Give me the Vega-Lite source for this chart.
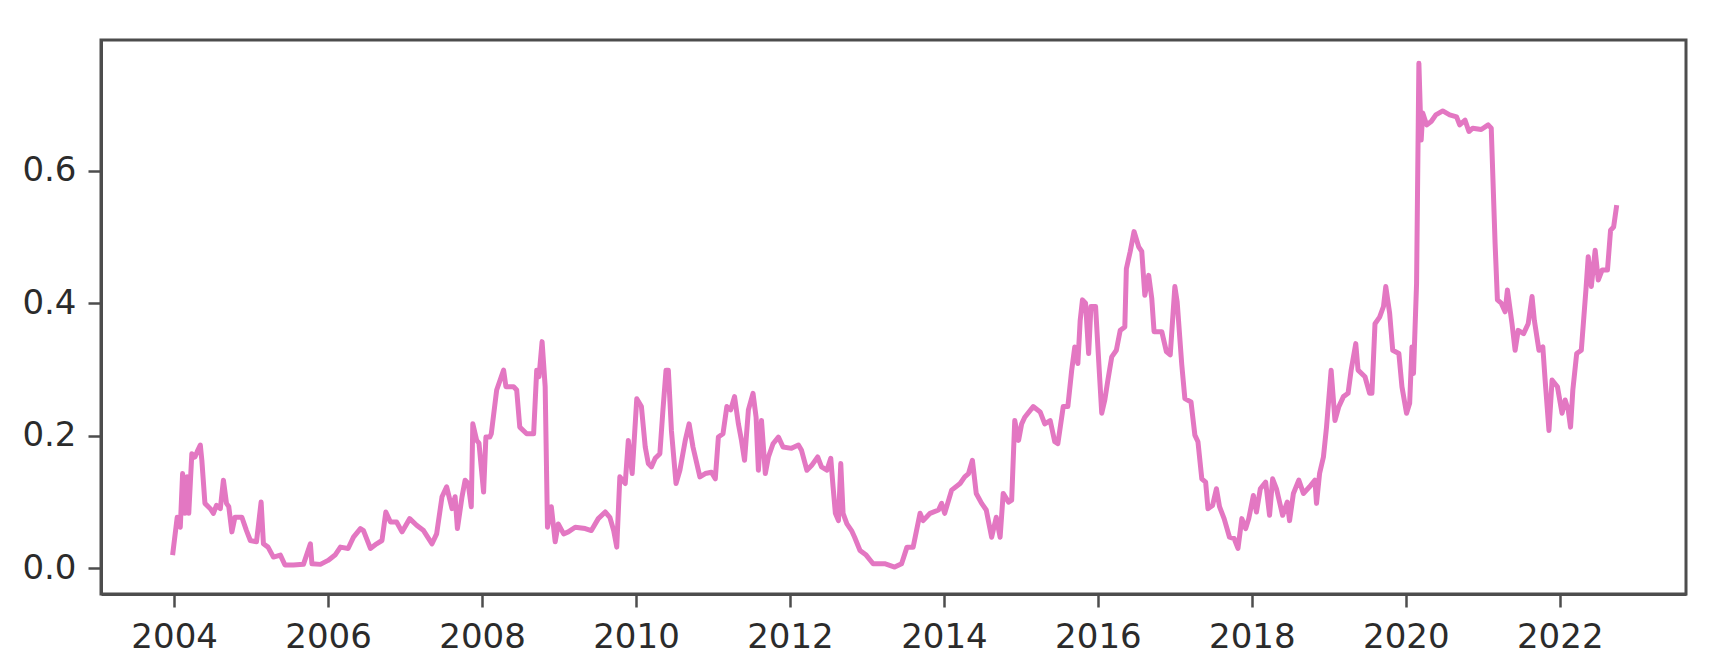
{
  "$schema": "https://vega.github.io/schema/vega-lite/v6.json",
  "autosize": "none",
  "width": 1585,
  "height": 554,
  "padding": {"left": 101, "top": 40, "right": 25, "bottom": 78},
  "background": "white",
  "config": {
    "view": {"stroke": "#4d4d4d", "strokeWidth": 3},
    "axis": {
      "grid": false,
      "domainColor": "#4d4d4d",
      "domainWidth": 3,
      "tickColor": "#4d4d4d",
      "tickWidth": 2.5,
      "tickSize": 13,
      "labelFont": "DejaVu Sans",
      "labelFontSize": 34,
      "labelColor": "#2b2b2b",
      "labelPadding": 12,
      "title": null
    }
  },
  "data": {
    "values": [
      {"date": 2003.98, "value": 0.020},
      {"date": 2004.04, "value": 0.077},
      {"date": 2004.08, "value": 0.062},
      {"date": 2004.11, "value": 0.143},
      {"date": 2004.14, "value": 0.083},
      {"date": 2004.17, "value": 0.138},
      {"date": 2004.19, "value": 0.083},
      {"date": 2004.23, "value": 0.173},
      {"date": 2004.27, "value": 0.168},
      {"date": 2004.30, "value": 0.176},
      {"date": 2004.34, "value": 0.186},
      {"date": 2004.36, "value": 0.163},
      {"date": 2004.40, "value": 0.098},
      {"date": 2004.47, "value": 0.090},
      {"date": 2004.51, "value": 0.083},
      {"date": 2004.55, "value": 0.095},
      {"date": 2004.60, "value": 0.090},
      {"date": 2004.64, "value": 0.133},
      {"date": 2004.68, "value": 0.098},
      {"date": 2004.71, "value": 0.093},
      {"date": 2004.75, "value": 0.055},
      {"date": 2004.79, "value": 0.077},
      {"date": 2004.88, "value": 0.077},
      {"date": 2004.94, "value": 0.057},
      {"date": 2004.99, "value": 0.042},
      {"date": 2005.07, "value": 0.040},
      {"date": 2005.13, "value": 0.100},
      {"date": 2005.16, "value": 0.037},
      {"date": 2005.22, "value": 0.032},
      {"date": 2005.29, "value": 0.017},
      {"date": 2005.38, "value": 0.020},
      {"date": 2005.44, "value": 0.005},
      {"date": 2005.55, "value": 0.005},
      {"date": 2005.68, "value": 0.006},
      {"date": 2005.77, "value": 0.037},
      {"date": 2005.79, "value": 0.007},
      {"date": 2005.90, "value": 0.006},
      {"date": 2006.00, "value": 0.012},
      {"date": 2006.09, "value": 0.020},
      {"date": 2006.16, "value": 0.032},
      {"date": 2006.26, "value": 0.030},
      {"date": 2006.33, "value": 0.047},
      {"date": 2006.42, "value": 0.060},
      {"date": 2006.46, "value": 0.057},
      {"date": 2006.55, "value": 0.030},
      {"date": 2006.63, "value": 0.037},
      {"date": 2006.70, "value": 0.042},
      {"date": 2006.75, "value": 0.085},
      {"date": 2006.81, "value": 0.070},
      {"date": 2006.89, "value": 0.070},
      {"date": 2006.96, "value": 0.055},
      {"date": 2007.06, "value": 0.075},
      {"date": 2007.15, "value": 0.065},
      {"date": 2007.24, "value": 0.057},
      {"date": 2007.35, "value": 0.037},
      {"date": 2007.41, "value": 0.052},
      {"date": 2007.48, "value": 0.108},
      {"date": 2007.54, "value": 0.123},
      {"date": 2007.61, "value": 0.090},
      {"date": 2007.65, "value": 0.108},
      {"date": 2007.68, "value": 0.060},
      {"date": 2007.74, "value": 0.108},
      {"date": 2007.78, "value": 0.133},
      {"date": 2007.82, "value": 0.128},
      {"date": 2007.86, "value": 0.093},
      {"date": 2007.88, "value": 0.218},
      {"date": 2007.93, "value": 0.193},
      {"date": 2007.96, "value": 0.189},
      {"date": 2008.02, "value": 0.115},
      {"date": 2008.05, "value": 0.198},
      {"date": 2008.10, "value": 0.198},
      {"date": 2008.12, "value": 0.203},
      {"date": 2008.19, "value": 0.269},
      {"date": 2008.28, "value": 0.299},
      {"date": 2008.31, "value": 0.274},
      {"date": 2008.41, "value": 0.274},
      {"date": 2008.45, "value": 0.269},
      {"date": 2008.49, "value": 0.213},
      {"date": 2008.58, "value": 0.203},
      {"date": 2008.67, "value": 0.203},
      {"date": 2008.71, "value": 0.299},
      {"date": 2008.74, "value": 0.289},
      {"date": 2008.78, "value": 0.342},
      {"date": 2008.82, "value": 0.274},
      {"date": 2008.85, "value": 0.062},
      {"date": 2008.90, "value": 0.093},
      {"date": 2008.95, "value": 0.040},
      {"date": 2008.99, "value": 0.067},
      {"date": 2009.06, "value": 0.052},
      {"date": 2009.12, "value": 0.055},
      {"date": 2009.21, "value": 0.062},
      {"date": 2009.34, "value": 0.060},
      {"date": 2009.42, "value": 0.057},
      {"date": 2009.51, "value": 0.075},
      {"date": 2009.60, "value": 0.085},
      {"date": 2009.66, "value": 0.077},
      {"date": 2009.71, "value": 0.057},
      {"date": 2009.75, "value": 0.032},
      {"date": 2009.79, "value": 0.138},
      {"date": 2009.86, "value": 0.128},
      {"date": 2009.90, "value": 0.193},
      {"date": 2009.95, "value": 0.143},
      {"date": 2010.01, "value": 0.256},
      {"date": 2010.07, "value": 0.244},
      {"date": 2010.12, "value": 0.183},
      {"date": 2010.16, "value": 0.158},
      {"date": 2010.20, "value": 0.153},
      {"date": 2010.25, "value": 0.166},
      {"date": 2010.31, "value": 0.173},
      {"date": 2010.35, "value": 0.239},
      {"date": 2010.39, "value": 0.299},
      {"date": 2010.42, "value": 0.299},
      {"date": 2010.46, "value": 0.208},
      {"date": 2010.52, "value": 0.128},
      {"date": 2010.57, "value": 0.148},
      {"date": 2010.64, "value": 0.193},
      {"date": 2010.69, "value": 0.218},
      {"date": 2010.74, "value": 0.183},
      {"date": 2010.83, "value": 0.138},
      {"date": 2010.90, "value": 0.143},
      {"date": 2010.98, "value": 0.145},
      {"date": 2011.03, "value": 0.135},
      {"date": 2011.07, "value": 0.198},
      {"date": 2011.13, "value": 0.203},
      {"date": 2011.18, "value": 0.244},
      {"date": 2011.23, "value": 0.239},
      {"date": 2011.28, "value": 0.259},
      {"date": 2011.33, "value": 0.218},
      {"date": 2011.37, "value": 0.193},
      {"date": 2011.41, "value": 0.163},
      {"date": 2011.46, "value": 0.239},
      {"date": 2011.52, "value": 0.264},
      {"date": 2011.56, "value": 0.228},
      {"date": 2011.59, "value": 0.148},
      {"date": 2011.63, "value": 0.223},
      {"date": 2011.68, "value": 0.143},
      {"date": 2011.72, "value": 0.168},
      {"date": 2011.78, "value": 0.188},
      {"date": 2011.85, "value": 0.198},
      {"date": 2011.91, "value": 0.183},
      {"date": 2012.02, "value": 0.181},
      {"date": 2012.11, "value": 0.186},
      {"date": 2012.15, "value": 0.178},
      {"date": 2012.22, "value": 0.148},
      {"date": 2012.28, "value": 0.155},
      {"date": 2012.36, "value": 0.168},
      {"date": 2012.41, "value": 0.153},
      {"date": 2012.48, "value": 0.148},
      {"date": 2012.53, "value": 0.166},
      {"date": 2012.56, "value": 0.123},
      {"date": 2012.59, "value": 0.083},
      {"date": 2012.63, "value": 0.072},
      {"date": 2012.66, "value": 0.158},
      {"date": 2012.69, "value": 0.083},
      {"date": 2012.74, "value": 0.067},
      {"date": 2012.80, "value": 0.057},
      {"date": 2012.84, "value": 0.047},
      {"date": 2012.91, "value": 0.027},
      {"date": 2012.99, "value": 0.020},
      {"date": 2013.08, "value": 0.007},
      {"date": 2013.23, "value": 0.007},
      {"date": 2013.36, "value": 0.002},
      {"date": 2013.45, "value": 0.007},
      {"date": 2013.52, "value": 0.032},
      {"date": 2013.60, "value": 0.032},
      {"date": 2013.69, "value": 0.083},
      {"date": 2013.73, "value": 0.072},
      {"date": 2013.82, "value": 0.083},
      {"date": 2013.93, "value": 0.088},
      {"date": 2013.97, "value": 0.098},
      {"date": 2014.01, "value": 0.083},
      {"date": 2014.10, "value": 0.118},
      {"date": 2014.21, "value": 0.128},
      {"date": 2014.27, "value": 0.138},
      {"date": 2014.32, "value": 0.143},
      {"date": 2014.37, "value": 0.163},
      {"date": 2014.42, "value": 0.113},
      {"date": 2014.49, "value": 0.098},
      {"date": 2014.55, "value": 0.088},
      {"date": 2014.62, "value": 0.047},
      {"date": 2014.68, "value": 0.077},
      {"date": 2014.73, "value": 0.047},
      {"date": 2014.77, "value": 0.113},
      {"date": 2014.84, "value": 0.100},
      {"date": 2014.88, "value": 0.103},
      {"date": 2014.92, "value": 0.223},
      {"date": 2014.97, "value": 0.193},
      {"date": 2015.01, "value": 0.218},
      {"date": 2015.05, "value": 0.228},
      {"date": 2015.16, "value": 0.244},
      {"date": 2015.25, "value": 0.236},
      {"date": 2015.31, "value": 0.218},
      {"date": 2015.38, "value": 0.223},
      {"date": 2015.44, "value": 0.191},
      {"date": 2015.48, "value": 0.188},
      {"date": 2015.55, "value": 0.244},
      {"date": 2015.61, "value": 0.244},
      {"date": 2015.66, "value": 0.299},
      {"date": 2015.70, "value": 0.334},
      {"date": 2015.74, "value": 0.309},
      {"date": 2015.77, "value": 0.374},
      {"date": 2015.80, "value": 0.405},
      {"date": 2015.84, "value": 0.400},
      {"date": 2015.88, "value": 0.324},
      {"date": 2015.91, "value": 0.395},
      {"date": 2015.97, "value": 0.395},
      {"date": 2016.00, "value": 0.334},
      {"date": 2016.05, "value": 0.234},
      {"date": 2016.09, "value": 0.254},
      {"date": 2016.13, "value": 0.284},
      {"date": 2016.18, "value": 0.319},
      {"date": 2016.24, "value": 0.329},
      {"date": 2016.29, "value": 0.359},
      {"date": 2016.35, "value": 0.364},
      {"date": 2016.37, "value": 0.452},
      {"date": 2016.42, "value": 0.478},
      {"date": 2016.47, "value": 0.508},
      {"date": 2016.53, "value": 0.485},
      {"date": 2016.57, "value": 0.478},
      {"date": 2016.61, "value": 0.412},
      {"date": 2016.66, "value": 0.442},
      {"date": 2016.70, "value": 0.407},
      {"date": 2016.73, "value": 0.357},
      {"date": 2016.83, "value": 0.357},
      {"date": 2016.89, "value": 0.327},
      {"date": 2016.94, "value": 0.322},
      {"date": 2017.00, "value": 0.425},
      {"date": 2017.03, "value": 0.402},
      {"date": 2017.09, "value": 0.307},
      {"date": 2017.13, "value": 0.256},
      {"date": 2017.21, "value": 0.251},
      {"date": 2017.26, "value": 0.201},
      {"date": 2017.30, "value": 0.191},
      {"date": 2017.35, "value": 0.135},
      {"date": 2017.40, "value": 0.130},
      {"date": 2017.43, "value": 0.090},
      {"date": 2017.49, "value": 0.095},
      {"date": 2017.54, "value": 0.120},
      {"date": 2017.58, "value": 0.093},
      {"date": 2017.64, "value": 0.075},
      {"date": 2017.71, "value": 0.047},
      {"date": 2017.77, "value": 0.045},
      {"date": 2017.82, "value": 0.030},
      {"date": 2017.87, "value": 0.075},
      {"date": 2017.92, "value": 0.060},
      {"date": 2017.96, "value": 0.075},
      {"date": 2018.02, "value": 0.110},
      {"date": 2018.06, "value": 0.085},
      {"date": 2018.11, "value": 0.120},
      {"date": 2018.18, "value": 0.130},
      {"date": 2018.23, "value": 0.080},
      {"date": 2018.27, "value": 0.135},
      {"date": 2018.32, "value": 0.120},
      {"date": 2018.40, "value": 0.080},
      {"date": 2018.46, "value": 0.100},
      {"date": 2018.49, "value": 0.072},
      {"date": 2018.54, "value": 0.113},
      {"date": 2018.61, "value": 0.133},
      {"date": 2018.67, "value": 0.113},
      {"date": 2018.75, "value": 0.123},
      {"date": 2018.82, "value": 0.133},
      {"date": 2018.84, "value": 0.098},
      {"date": 2018.88, "value": 0.143},
      {"date": 2018.93, "value": 0.168},
      {"date": 2018.97, "value": 0.213},
      {"date": 2019.03, "value": 0.299},
      {"date": 2019.08, "value": 0.223},
      {"date": 2019.13, "value": 0.244},
      {"date": 2019.19, "value": 0.259},
      {"date": 2019.25, "value": 0.264},
      {"date": 2019.29, "value": 0.299},
      {"date": 2019.35, "value": 0.339},
      {"date": 2019.38, "value": 0.299},
      {"date": 2019.47, "value": 0.289},
      {"date": 2019.53, "value": 0.264},
      {"date": 2019.56, "value": 0.264},
      {"date": 2019.60, "value": 0.369},
      {"date": 2019.66, "value": 0.379},
      {"date": 2019.71, "value": 0.395},
      {"date": 2019.74, "value": 0.425},
      {"date": 2019.79, "value": 0.385},
      {"date": 2019.83, "value": 0.329},
      {"date": 2019.91, "value": 0.324},
      {"date": 2019.95, "value": 0.274},
      {"date": 2020.01, "value": 0.234},
      {"date": 2020.05, "value": 0.249},
      {"date": 2020.08, "value": 0.334},
      {"date": 2020.10, "value": 0.294},
      {"date": 2020.14, "value": 0.430},
      {"date": 2020.17, "value": 0.762},
      {"date": 2020.20, "value": 0.646},
      {"date": 2020.22, "value": 0.687},
      {"date": 2020.27, "value": 0.669},
      {"date": 2020.33, "value": 0.674},
      {"date": 2020.39, "value": 0.684},
      {"date": 2020.48, "value": 0.690},
      {"date": 2020.57, "value": 0.684},
      {"date": 2020.66, "value": 0.681},
      {"date": 2020.70, "value": 0.669},
      {"date": 2020.77, "value": 0.676},
      {"date": 2020.82, "value": 0.659},
      {"date": 2020.87, "value": 0.664},
      {"date": 2020.98, "value": 0.662},
      {"date": 2021.07, "value": 0.669},
      {"date": 2021.11, "value": 0.664},
      {"date": 2021.16, "value": 0.490},
      {"date": 2021.19, "value": 0.405},
      {"date": 2021.24, "value": 0.400},
      {"date": 2021.29, "value": 0.387},
      {"date": 2021.32, "value": 0.420},
      {"date": 2021.38, "value": 0.369},
      {"date": 2021.42, "value": 0.329},
      {"date": 2021.46, "value": 0.359},
      {"date": 2021.53, "value": 0.354},
      {"date": 2021.59, "value": 0.369},
      {"date": 2021.64, "value": 0.410},
      {"date": 2021.67, "value": 0.374},
      {"date": 2021.73, "value": 0.329},
      {"date": 2021.78, "value": 0.334},
      {"date": 2021.81, "value": 0.284},
      {"date": 2021.86, "value": 0.208},
      {"date": 2021.90, "value": 0.284},
      {"date": 2021.97, "value": 0.274},
      {"date": 2022.03, "value": 0.234},
      {"date": 2022.07, "value": 0.254},
      {"date": 2022.11, "value": 0.239},
      {"date": 2022.14, "value": 0.213},
      {"date": 2022.17, "value": 0.269},
      {"date": 2022.22, "value": 0.324},
      {"date": 2022.28, "value": 0.329},
      {"date": 2022.34, "value": 0.420},
      {"date": 2022.37, "value": 0.470},
      {"date": 2022.41, "value": 0.425},
      {"date": 2022.46, "value": 0.480},
      {"date": 2022.50, "value": 0.435},
      {"date": 2022.55, "value": 0.450},
      {"date": 2022.62, "value": 0.450},
      {"date": 2022.66, "value": 0.510},
      {"date": 2022.70, "value": 0.515},
      {"date": 2022.74, "value": 0.548}
    ]
  },
  "mark": {"type": "line", "color": "#e377c2", "strokeWidth": 5, "strokeJoin": "round", "clip": true},
  "encoding": {
    "x": {
      "field": "date",
      "type": "quantitative",
      "scale": {"domain": [2003.05, 2023.64], "nice": false, "zero": false},
      "axis": {"values": [2004, 2006, 2008, 2010, 2012, 2014, 2016, 2018, 2020, 2022], "format": "d", "labelPadding": 13}
    },
    "y": {
      "field": "value",
      "type": "quantitative",
      "scale": {"domain": [-0.0387, 0.797], "nice": false, "zero": false},
      "axis": {"values": [0, 0.2, 0.4, 0.6], "format": ".1f"}
    }
  }
}
